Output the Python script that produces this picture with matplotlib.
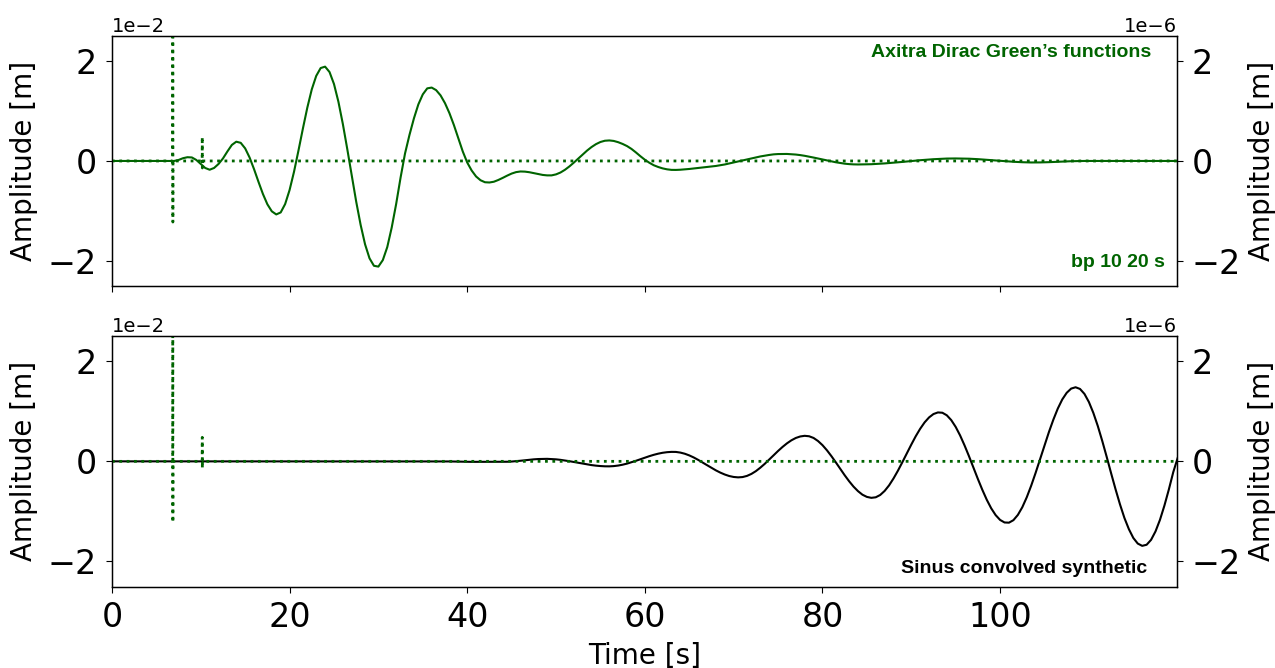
import numpy as np
import matplotlib
matplotlib.use("Agg")
import matplotlib.pyplot as plt

# time axis of the synthetics (s)
time = np.arange(0, 120.5, 0.5)

# Axitra synthetic, bandpassed 10-20 s (units of 1e-6 m), one row = 5 s
axitra_bp = [
    0, 0, 0, 0, 0, 0, 0, 0, 0, 0,
    0, 0, 0, 0, 0, 0.02, 0.055, 0.075, 0.07, 0.02,
    -0.06, -0.14, -0.175, -0.14, -0.06, 0.05, 0.19, 0.32, 0.385, 0.362,
    0.251, 0.068, -0.164, -0.417, -0.660, -0.865, -1.006, -1.068, -1.028, -0.861,
    -0.581, -0.216, 0.207, 0.647, 1.067, 1.430, 1.699, 1.856, 1.884, 1.776,
    1.537, 1.182, 0.737, 0.234, -0.295, -0.811, -1.276, -1.665, -1.944, -2.094,
    -2.11, -1.98, -1.72, -1.33, -0.86, -0.33, 0.15, 0.52, 0.85, 1.13,
    1.33, 1.45, 1.466, 1.415, 1.31, 1.154, 0.955, 0.718, 0.454, 0.19,
    -0.03, -0.19, -0.31, -0.385, -0.425, -0.43, -0.415, -0.380, -0.338, -0.293,
    -0.252, -0.223, -0.21, -0.213, -0.225, -0.243, -0.263, -0.279, -0.288, -0.288,
    -0.268, -0.231, -0.177, -0.110, -0.034, 0.047, 0.130, 0.208, 0.278, 0.336,
    0.379, 0.404, 0.41, 0.400, 0.375, 0.34, 0.297, 0.24, 0.17, 0.095,
    0.025, -0.035, -0.085, -0.12, -0.148, -0.167, -0.178, -0.179, -0.175, -0.168,
    -0.16, -0.15, -0.14, -0.13, -0.12, -0.11, -0.10, -0.085, -0.07, -0.05,
    -0.03, -0.01, 0.01, 0.03, 0.05, 0.07, 0.09, 0.105, 0.12, 0.132,
    0.138, 0.14, 0.14, 0.135, 0.128, 0.117, 0.103, 0.086, 0.068, 0.049,
    0.029, 0.009, -0.009, -0.026, -0.041, -0.054, -0.063, -0.068, -0.07, -0.069,
    -0.068, -0.065, -0.060, -0.055, -0.049, -0.042, -0.035, -0.027, -0.019, -0.010,
    -0.001, 0.007, 0.015, 0.022, 0.029, 0.035, 0.040, 0.045, 0.048, 0.050,
    0.050, 0.049, 0.048, 0.045, 0.041, 0.036, 0.030, 0.024, 0.017, 0.010,
    0.003, -0.004, -0.010, -0.016, -0.021, -0.025, -0.028, -0.030, -0.030, -0.029,
    -0.027, -0.024, -0.020, -0.016, -0.012, -0.008, -0.005, -0.003, -0.001, 0,
    0, 0, 0, 0, 0, 0, 0, 0, 0, 0,
    0, 0, 0, 0, 0, 0, 0, 0, 0, 0,
    0,
]

# sinus convolved synthetic (units of 1e-6 m)
sinus_conv = [
    0, 0, 0, 0, 0, 0, 0, 0, 0, 0,
    0, 0, 0, 0, 0, 0, 0, 0, 0, 0,
    0, 0, 0, 0, 0, 0, 0, 0, 0, 0,
    0, 0, 0, 0, 0, 0, 0, 0, 0, 0,
    0, 0, 0, 0, 0, 0, 0, 0, 0, 0,
    0, 0, 0, 0, 0, 0, 0, 0, 0, 0,
    0, 0, 0, 0, 0, 0, 0, 0, 0, 0,
    0, 0, 0, 0, 0, 0, -0.002, -0.004, -0.006, -0.008,
    -0.009, -0.010, -0.010, -0.010, -0.010, -0.010, -0.010, -0.010, -0.010, -0.008,
    -0.004, 0.003, 0.012, 0.022, 0.031, 0.040, 0.046, 0.049, 0.050, 0.046,
    0.040, 0.030, 0.017, 0.003, -0.013, -0.030, -0.046, -0.062, -0.075, -0.086,
    -0.094, -0.099, -0.100, -0.095, -0.084, -0.067, -0.045, -0.018, 0.011, 0.042,
    0.073, 0.103, 0.130, 0.153, 0.171, 0.183, 0.189, 0.188, 0.175, 0.152,
    0.119, 0.078, 0.030, -0.022, -0.076, -0.129, -0.180, -0.225, -0.263, -0.293,
    -0.312, -0.320, -0.314, -0.291, -0.251, -0.196, -0.127, -0.050, 0.034, 0.121,
    0.207, 0.287, 0.359, 0.420, 0.467, 0.497, 0.510, 0.501, 0.467, 0.406,
    0.324, 0.222, 0.106, -0.019, -0.149, -0.277, -0.397, -0.505, -0.595, -0.666,
    -0.710, -0.729, -0.718, -0.672, -0.591, -0.480, -0.342, -0.186, -0.016, 0.160,
    0.334, 0.501, 0.650, 0.778, 0.877, 0.945, 0.977, 0.971, 0.920, 0.824,
    0.688, 0.517, 0.318, 0.102, -0.125, -0.352, -0.568, -0.767, -0.938, -1.074,
    -1.170, -1.221, -1.225, -1.175, -1.070, -0.917, -0.719, -0.487, -0.230, 0.042,
    0.319, 0.586, 0.834, 1.055, 1.236, 1.369, 1.453, 1.48, 1.446, 1.347,
    1.185, 0.968, 0.707, 0.410, 0.092, -0.237, -0.557, -0.859, -1.131, -1.354,
    -1.530, -1.642, -1.688, -1.666, -1.568, -1.399, -1.169, -0.885, -0.563, -0.215,
    0.07,
]

# Dirac Green's function (units of 1e-2 m)
green_time = [0, 6.84, 6.85, 6.86, 6.87, 10.16, 10.17, 10.18, 10.19, 119.9]
green_amp = [0, 0, 4.5, -1.22, 0, 0, 0.48, -0.14, 0, 0]

labels = ["Axitra Dirac Green\u2019s functions", "Sinus convolved synthetic"]

tmax = 119.9
col = "darkgreen"

fig, axes = plt.subplots(2, 1, figsize=(12.75, 6.68), dpi=100, sharex=True)
fig.subplots_adjust(left=0.0878, right=0.923, top=0.9464, bottom=0.122, hspace=0.2)

synth = [(np.array(axitra_bp), col), (np.array(sinus_conv), "k")]

for i, ax in enumerate(axes):
    ax2 = ax.twinx()
    # green's function on the left axis, drawn on top
    ax.plot(green_time, np.array(green_amp) * 1e-2, ls=":", lw=2, color=col)
    ax2.plot(time, synth[i][0] * 1e-6, color=synth[i][1], lw=1.5)

    ax.set_zorder(ax2.get_zorder() + 1)
    ax.patch.set_visible(False)

    ax.set_ylim(-2.5e-2, 2.5e-2)
    ax2.set_ylim(-2.5e-6, 2.5e-6)
    ax.set_yticks([-2e-2, 0, 2e-2])
    ax2.set_yticks([-2e-6, 0, 2e-6])
    for a in (ax, ax2):
        a.ticklabel_format(axis="y", style="sci", scilimits=(0, 0))
        a.tick_params(labelsize=24, length=4.5, pad=6)
        a.yaxis.get_offset_text().set_fontsize(14)
    ax.set_ylabel("Amplitude [m]", fontsize=20, labelpad=7)
    ax2.set_ylabel("Amplitude [m]", fontsize=20, labelpad=5)
    for s in ax2.spines.values():
        s.set_linewidth(1.0)
    ax.set_xlim(0, tmax)
    ax.set_xticks([0, 20, 40, 60, 80, 100])

axes[0].text(0.976, 0.935, labels[0], transform=axes[0].transAxes, ha="right", va="center",
             color=col, fontsize=14, fontweight="bold", family="Liberation Sans")
axes[0].text(0.9887, 0.093, "bp 10 20 s", transform=axes[0].transAxes, ha="right", va="center",
             color=col, fontsize=14, fontweight="bold", family="Liberation Sans")
axes[1].text(0.9725, 0.073, labels[1], transform=axes[1].transAxes, ha="right", va="center",
             color="k", fontsize=14, fontweight="bold", family="Liberation Sans")

axes[1].set_xlabel("Time [s]", fontsize=20, labelpad=6)

fig.savefig("out.png", dpi=100)
